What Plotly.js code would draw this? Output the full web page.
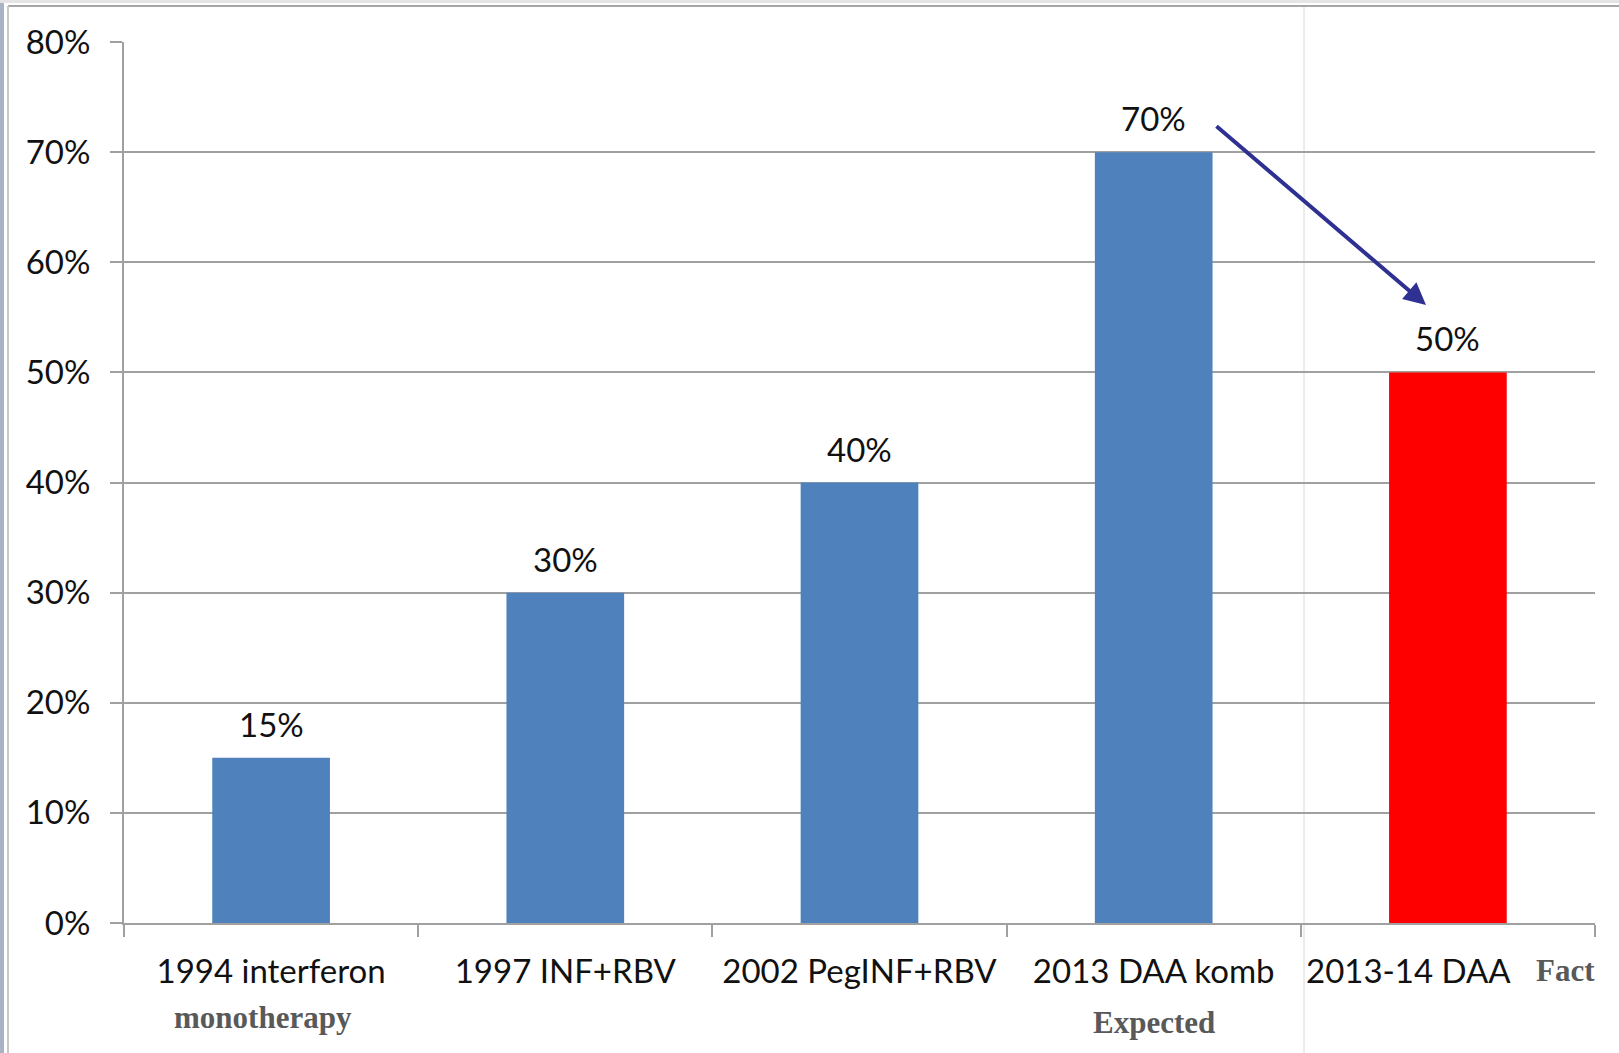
<!DOCTYPE html>
<html>
<head>
<meta charset="utf-8">
<script src="https://cdn.plot.ly/plotly-3.0.1.min.js"></script>
<style>html,body{margin:0;padding:0;background:#fff;}#chart{width:1619px;height:1053px;}</style>
</head>
<body>
<div id="chart"></div>
<script>
// ---- data ----
const categories = ["1994 interferon", "1997 INF+RBV", "2002 PegINF+RBV", "2013 DAA komb", "2013-14 DAA"];
const values = [15, 30, 40, 70, 50];
const barColors = ["#4F81BD", "#4F81BD", "#4F81BD", "#4F81BD", "#FF0000"];
const yTickVals = [0, 10, 20, 30, 40, 50, 60, 70, 80];
const yTickText = ["0%", "10%", "20%", "30%", "40%", "50%", "60%", "70%", "80%"];
const subNotes = [
  {cat: 0, text: "monotherapy"},
  {cat: 3, text: "Expected"}
];
const sideNote = "Fact";

// ---- layout geometry ----
const W = 1619, H = 1053;
const M = {l: 124, r: 24, t: 42, b: 130};
const PW = W - M.l - M.r, PH = H - M.t - M.b;
const px = x => (x - M.l) / PW;
const py = y => (H - M.b - y) / PH;

const mainFont = "Lato, 'Open Sans', sans-serif";
const serifFont = "'Liberation Serif', 'DejaVu Serif', serif";

// last category label sits left of its bar centre in the reference:
// it is drawn as an annotation, its tick label left empty
const last = categories.length - 1;
const xTickText = categories.map((c, i) => i === last ? "" : c);

const trace = {
  type: "bar",
  x: categories,
  y: values,
  marker: {color: barColors},
  hoverinfo: "none"
};

const annotations = [];
categories.forEach((c, i) => {
  annotations.push({
    x: c, y: values[i], xref: "x", yref: "y",
    text: values[i] + "%", showarrow: false,
    yanchor: "bottom", yshift: 12,
    font: {family: mainFont, size: 33, color: "#111"}
  });
});
annotations.push({
  x: categories[last], xref: "x", y: py(970), yref: "paper",
  text: categories[last], showarrow: false, yanchor: "middle", xanchor: "center",
  xshift: -39,
  font: {family: mainFont, size: 33, color: "#111"}
});
subNotes.forEach(n => {
  annotations.push({
    x: categories[n.cat], xref: "x", y: py(n.cat === 0 ? 1017 : 1022), yref: "paper",
    text: "<b>" + n.text + "</b>", showarrow: false, yanchor: "middle", xanchor: "center",
    xshift: n.cat === 0 ? -8 : 0,
    font: {family: serifFont, size: 31, color: "#595959"}
  });
});
annotations.push({
  x: px(1565), xref: "paper", y: py(970), yref: "paper",
  text: "<b>" + sideNote + "</b>", showarrow: false, yanchor: "middle", xanchor: "center",
  font: {family: serifFont, size: 31, color: "#595959"}
});
// arrow from expected to fact
annotations.push({
  x: px(1426), xref: "paper", y: py(305), yref: "paper",
  ax: 1215 - 1426, ay: 125 - 305,
  text: "", showarrow: true,
  arrowhead: 2, arrowsize: 1.1, arrowwidth: 4, arrowcolor: "#2E3192"
});

const shapes = [
  {type: "rect", xref: "paper", yref: "paper", x0: px(0), x1: px(4), y0: py(H), y1: py(0),
   fillcolor: "#A8B3C8", line: {width: 0}, layer: "below"},
  {type: "rect", xref: "paper", yref: "paper", x0: px(0), x1: px(W), y0: py(3), y1: py(0),
   fillcolor: "#E4E4E4", line: {width: 0}, layer: "below"},
  {type: "line", xref: "paper", yref: "paper", x0: px(8), x1: px(W), y0: py(6), y1: py(6),
   line: {color: "#A6A6A6", width: 2}},
  {type: "line", xref: "paper", yref: "paper", x0: px(8), x1: px(8), y0: py(6), y1: py(H),
   line: {color: "#C8C8C8", width: 2}},
  {type: "line", xref: "paper", yref: "paper", x0: px(1304), x1: px(1304), y0: py(6), y1: py(H),
   line: {color: "#DADADA", width: 1}, layer: "below"}
];

const layout = {
  width: W, height: H,
  margin: M,
  paper_bgcolor: "#fff", plot_bgcolor: "#fff",
  showlegend: false,
  bargap: 0.6,
  font: {family: mainFont, size: 33, color: "#111"},
  xaxis: {
    type: "category",
    tickvals: categories, ticktext: xTickText,
    tickangle: 0, automargin: false,
    showline: true, linecolor: "#A0A0A0", linewidth: 2,
    ticks: "outside", tickson: "boundaries", ticklen: 12, tickwidth: 2, tickcolor: "#A0A0A0",
    showgrid: false, zeroline: false,
    tickfont: {family: mainFont, size: 33, color: "#111"},
    ticklabelstandoff: 18
  },
  yaxis: {
    range: [0, 80],
    tickvals: yTickVals, ticktext: yTickText,
    showline: true, linecolor: "#A0A0A0", linewidth: 2,
    ticks: "outside", ticklen: 12, tickwidth: 2, tickcolor: "#A0A0A0",
    showgrid: true, gridcolor: "#A0A0A0", gridwidth: 2,
    zeroline: false,
    tickfont: {family: mainFont, size: 33, color: "#111"},
    ticklabelstandoff: 13
  },
  annotations: annotations,
  shapes: shapes
};

Plotly.newPlot("chart", [trace], layout, {staticPlot: true, displayModeBar: false});
</script>
</body>
</html>
